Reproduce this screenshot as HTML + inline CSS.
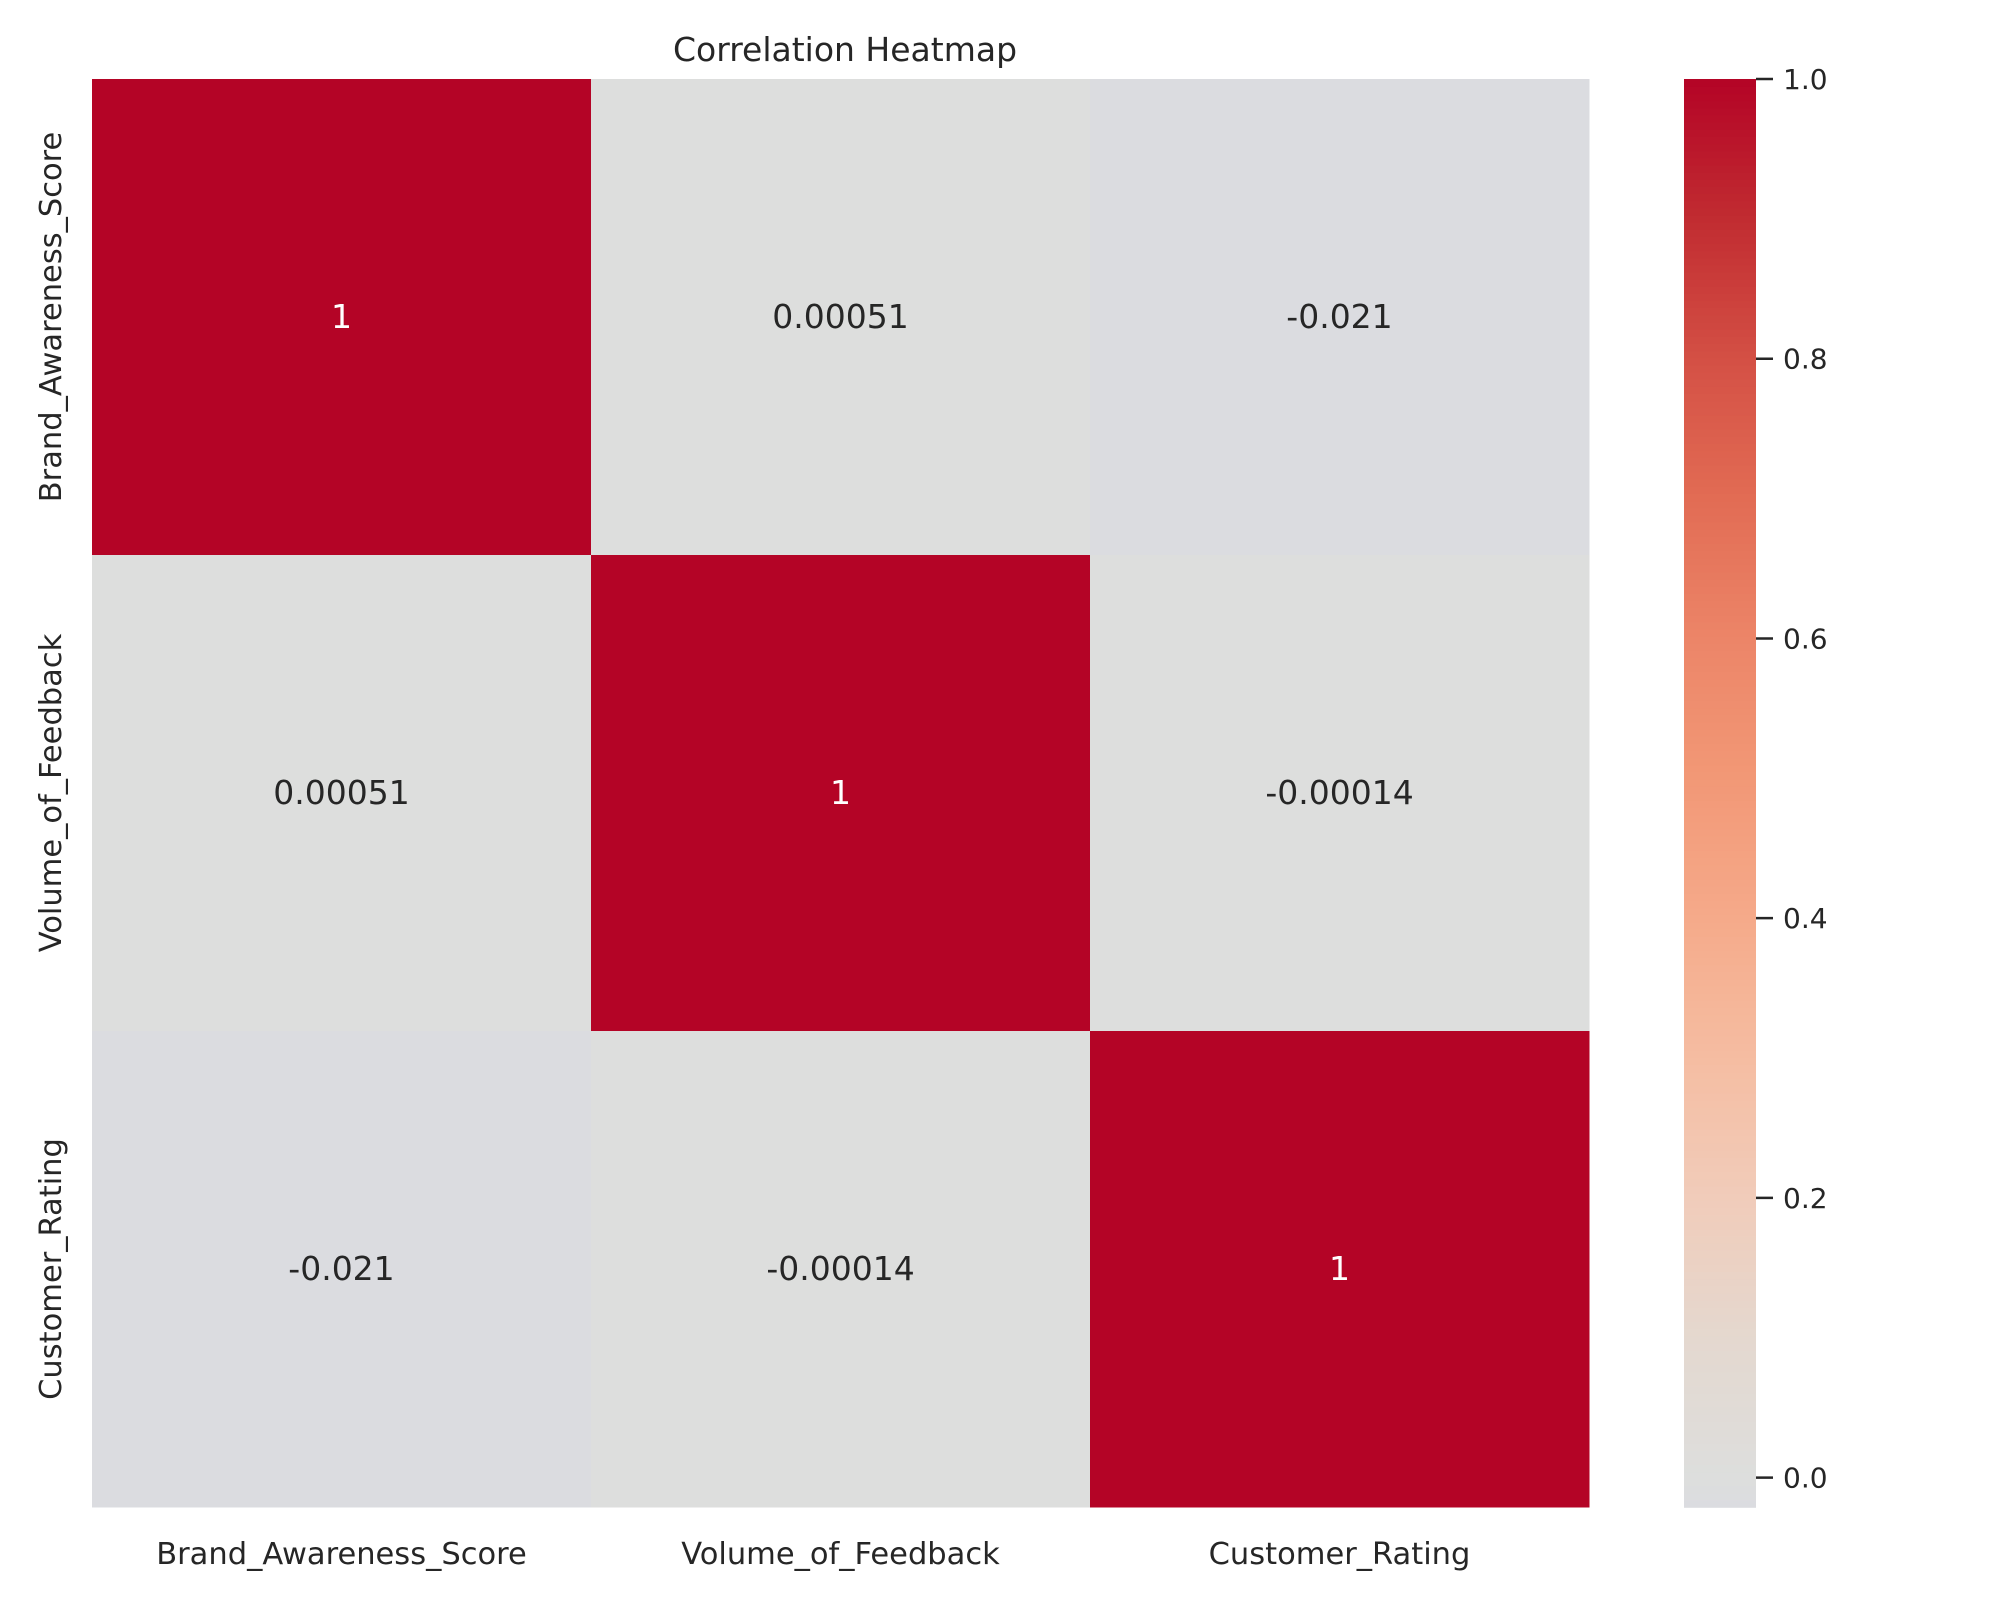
<!DOCTYPE html>
<html><head><meta charset="utf-8"><style>
html,body{margin:0;padding:0;background:#fff;}
svg text{font-family:"DejaVu Sans","Liberation Sans",sans-serif;fill:#262626;}
</style></head><body>
<svg id="chart" width="2000" height="1600" xmlns="http://www.w3.org/2000/svg">
<text x="845" y="61" font-size="33" text-anchor="middle">Correlation Heatmap</text>
<g id="cells"></g><g id="labels"></g><g id="cbar"></g>
</svg>
<script>
const categories = ["Brand_Awareness_Score","Volume_of_Feedback","Customer_Rating"];
const row0 = [1, 0.00051, -0.021];
const row1 = [0.00051, 1, -0.00014];
const row2 = [-0.021, -0.00014, 1];
const annotations0 = ["1","0.00051","-0.021"];
const annotations1 = ["0.00051","1","-0.00014"];
const annotations2 = ["-0.021","-0.00014","1"];
const cbTicks = [0.0,0.2,0.4,0.6,0.8,1.0];
const vmin = -0.021, vmax = 1.0;

const rows=[row0,row1,row2], ann=[annotations0,annotations1,annotations2];
const NS="http://www.w3.org/2000/svg";
const L=92,R=1589,T=79,B=1507;
const n=categories.length, cw=(R-L)/n, ch=(B-T)/n;
const xs=i=>L+i*cw, ys=j=>T+j*ch;
const cbTop=79,cbBot=1507;
const cy=v=>cbBot-(v-vmin)/(vmax-vmin)*(cbBot-cbTop);
const stops=[[-0.1,[214,219,228]],[-0.021,[219,220,224]],[0,[221,222,221]],[0.1,[228,216,207]],[0.2,[241,204,186]],[0.3,[245,189,162]],[0.4,[245,170,138]],[0.5,[242,152,118]],[0.6,[236,133,104]],[0.7,[226,108,84]],[0.8,[212,80,69]],[0.9,[193,44,49]],[1.0,[180,4,38]]];
function color(v){
  for(let k=0;k<stops.length-1;k++){const a=stops[k],b=stops[k+1];
    if(v<=b[0]){const t=Math.max(0,(v-a[0])/(b[0]-a[0]));return "rgb("+a[1].map((c,i)=>Math.round(c+(b[1][i]-c)*t)).join(",")+")";}}
  return "rgb(180,4,38)";
}
function mk(tag,attrs,parent){const e=document.createElementNS(NS,tag);for(const k in attrs)e.setAttribute(k,attrs[k]);parent.appendChild(e);return e;}
const gc=document.getElementById('cells'),gl=document.getElementById('labels'),gb=document.getElementById('cbar');
rows.forEach((row,j)=>row.forEach((v,i)=>{
  const r=mk('rect',{x:xs(i),y:ys(j),width:cw+0.5,height:ch+0.5,fill:color(v)},gc);
  
  
  const t=mk('text',{x:xs(i)+cw/2,y:ys(j)+ch/2+11,'font-size':33,'text-anchor':'middle'},gc);
  t.textContent=ann[j][i];
  if(v>0.5)t.style.fill='#ffffff';
  
  
}));
categories.forEach((c,i)=>{
  const t=mk('text',{x:xs(i)+cw/2,y:1564,'font-size':30.5,'text-anchor':'middle'},gl);
  t.textContent=c;
  
  
  const cyy=ys(i)+ch/2;
  const u=mk('text',{x:61,y:cyy,'font-size':30.5,'text-anchor':'middle',transform:`rotate(-90 61 ${cyy})`},gl);
  u.textContent=c;
  
  
});
const N=200;
for(let k=0;k<N;k++){
  const v0=vmin+(vmax-vmin)*k/N, v1=vmin+(vmax-vmin)*(k+1)/N;
  const r=mk('rect',{x:1684,y:cy(v1),width:72,height:cy(v0)-cy(v1)+0.8,fill:color((v0+v1)/2)},gb);
  
  
}
cbTicks.forEach(v=>{
  const l=mk('line',{x1:1756,x2:1773,y1:cy(v),y2:cy(v),stroke:'#262626','stroke-width':2.5},gb);
  
  
  const t=mk('text',{x:1783,y:cy(v)+10,'font-size':28},gb);
  t.textContent=v.toFixed(1);
  
  
});
</script>
</body></html>
